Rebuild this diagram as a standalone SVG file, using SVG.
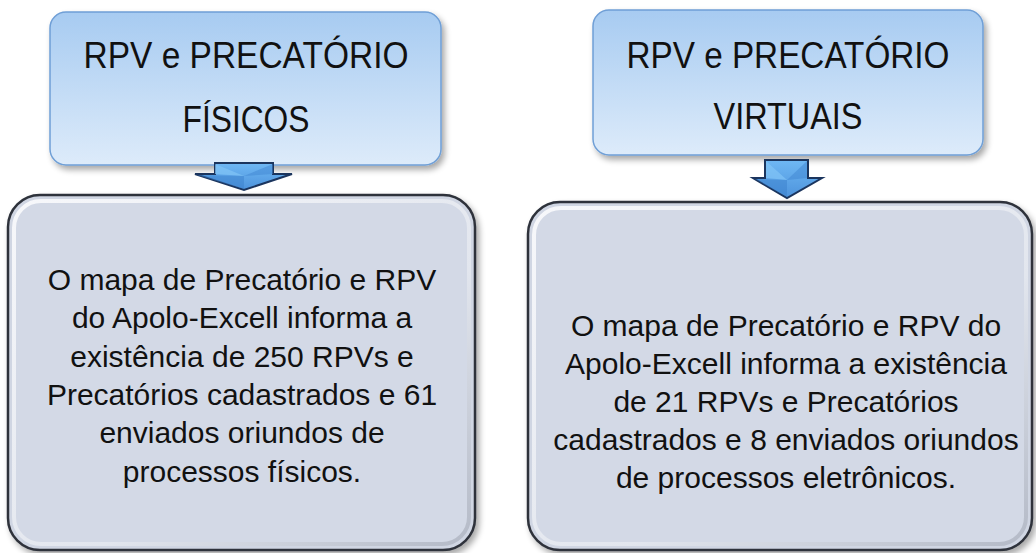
<svg xmlns="http://www.w3.org/2000/svg" width="1036" height="553" viewBox="0 0 1036 553">
<style>
.title{font-family:"Liberation Sans",Arial,sans-serif;font-size:36px;fill:#111;text-anchor:middle}
.body{font-family:"Liberation Sans",Arial,sans-serif;font-size:30px;fill:#111;text-anchor:middle}
.topbox{fill:url(#gBlue);stroke:#6f9fd6;stroke-width:1.5}
.outer{fill:#d0d6e3;stroke:#2e323b;stroke-width:2.5}
.inner{fill:#d3d9e6;stroke:url(#gBevel);stroke-width:4}
.arrow{fill:url(#gArrow);stroke:#1b355e;stroke-width:2;stroke-linejoin:miter}
</style>
<defs>
<linearGradient id="gBlue" x1="0" y1="0" x2="0" y2="1">
<stop offset="0" stop-color="#a7cbf1"/>
<stop offset="1" stop-color="#ddebfa"/>
</linearGradient>
<linearGradient id="gBevel" x1="0" y1="0" x2="1" y2="1">
<stop offset="0" stop-color="#f7f8fb"/>
<stop offset="0.6" stop-color="#e2e6ee"/>
<stop offset="1" stop-color="#b4bac7"/>
</linearGradient>
<linearGradient id="gArrow" x1="0" y1="0" x2="0" y2="1">
<stop offset="0" stop-color="#6fb8f4"/>
<stop offset="1" stop-color="#4d93dc"/>
</linearGradient>
<filter id="sh" x="-10%" y="-10%" width="130%" height="130%">
<feGaussianBlur in="SourceAlpha" stdDeviation="3"/>
<feOffset dx="3" dy="4" result="b"/>
<feComponentTransfer><feFuncA type="linear" slope="0.35"/></feComponentTransfer>
<feMerge><feMergeNode/><feMergeNode in="SourceGraphic"/></feMerge>
</filter>
</defs>
<rect width="1036" height="553" fill="#ffffff"/>

<g id="node-fisicos-title">
<rect class="topbox" x="50" y="12" width="391" height="153" rx="16" filter="url(#sh)"/>
<text class="title" x="246" y="68" textLength="325" lengthAdjust="spacingAndGlyphs">RPV e PRECATÓRIO</text>
<text class="title" x="246" y="132" textLength="127" lengthAdjust="spacingAndGlyphs">FÍSICOS</text>
</g>

<g id="node-virtuais-title">
<rect class="topbox" x="593" y="10" width="390" height="145" rx="16" filter="url(#sh)"/>
<text class="title" x="788" y="68" textLength="323" lengthAdjust="spacingAndGlyphs">RPV e PRECATÓRIO</text>
<text class="title" x="788" y="129" textLength="149" lengthAdjust="spacingAndGlyphs">VIRTUAIS</text>
</g>

<g id="node-fisicos-body">
<rect class="outer" x="8" y="195" width="467" height="355" rx="32" filter="url(#sh)"/>
<rect class="inner" x="14" y="201" width="455" height="343" rx="27"/>
<text class="body" x="242" y="290">O mapa de Precatório e RPV</text>
<text class="body" x="242" y="328">do Apolo-Excell informa a</text>
<text class="body" x="242" y="367">existência de 250 RPVs e</text>
<text class="body" x="242" y="405">Precatórios cadastrados e 61</text>
<text class="body" x="242" y="443">enviados oriundos de</text>
<text class="body" x="242" y="482">processos físicos.</text>
</g>

<g id="node-virtuais-body">
<rect class="outer" x="528" y="202" width="504" height="348" rx="32" filter="url(#sh)"/>
<rect class="inner" x="534" y="208" width="492" height="336" rx="27"/>
<text class="body" x="786" y="336">O mapa de Precatório e RPV do</text>
<text class="body" x="786" y="374">Apolo-Excell informa a existência</text>
<text class="body" x="786" y="412">de 21 RPVs e Precatórios</text>
<text class="body" x="786" y="450">cadastrados e 8 enviados oriundos</text>
<text class="body" x="786" y="488">de processos eletrônicos.</text>
</g>

<g id="connectors">
<g id="arrow-left">
<polygon class="arrow" points="215,163 273,163 273,174 292,174 244,190 195,174 215,174"/>
<polygon points="215,164 244,176 215,174" fill="#82c4f7" opacity="0.7"/>
<polygon points="273,164 244,176 273,174" fill="#3f86d2" opacity="0.5"/>
<polygon points="197,175 244,176 244,189" fill="#3a7fcc" opacity="0.5"/>
</g>
<g id="arrow-right">
<polygon class="arrow" points="765,160 808,160 808,178 822,178 787,198 753,178 765,178"/>
<polygon points="766,161 787,180 766,178" fill="#82c4f7" opacity="0.7"/>
<polygon points="807,161 787,180 807,178" fill="#3f86d2" opacity="0.5"/>
<polygon points="755,179 787,180 787,197" fill="#3a7fcc" opacity="0.5"/>
</g>
</g>
</svg>
